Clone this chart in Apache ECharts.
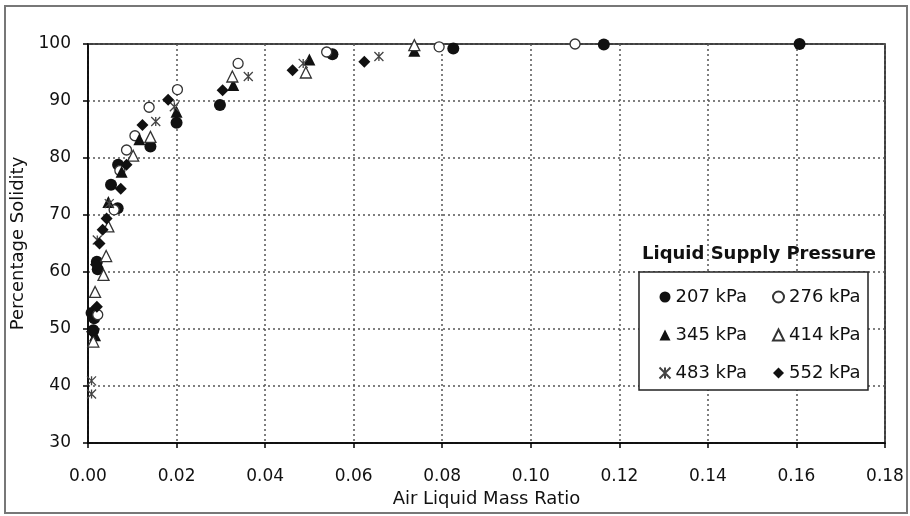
<!DOCTYPE html>
<html>
<head>
<meta charset="utf-8">
<script src="https://cdn.jsdelivr.net/npm/echarts@6/dist/echarts.min.js"></script>
<style>
  html, body { margin: 0; padding: 0; background: #fff; }
  #chart { width: 910px; height: 516px; }
</style>
</head>
<body>
<div id="chart"></div>
<script>
// data: [air liquid mass ratio, percentage solidity]
var p207 = [[0.0008,52.8],[0.0014,51.9],[0.0012,49.8],[0.0020,61.8],[0.0022,60.5],[0.0052,75.3],
	[0.0068,78.8],[0.0067,71.2],[0.0141,82.0],[0.0200,86.2],[0.0298,89.3],[0.0552,98.2],
	[0.0825,99.2],[0.1165,99.9],[0.1607,100]];
var p276 = [[0.0022,52.5],[0.0059,70.9],[0.0072,77.8],[0.0087,81.4],[0.0106,83.9],[0.0138,88.9],
	[0.0202,92.0],[0.0339,96.6],[0.0539,98.6],[0.0793,99.5],[0.110,100]];
var p345 = [[0.0016,48.9],[0.0027,60.7],[0.0046,72.3],[0.0076,77.6],[0.0116,83.3],[0.0200,88.1],
	[0.0328,92.8],[0.0500,97.3],[0.0737,98.8]];
var p414 = [[0.0012,47.8],[0.0016,56.5],[0.0035,59.5],[0.0041,62.8],[0.0046,68.0],[0.0102,80.4],
	[0.0141,83.7],[0.0326,94.3],[0.0492,95.0],[0.0737,99.8]];
var p483 = [[0.0008,40.9],[0.0008,38.6],[0.0021,65.6],[0.0048,72.0],[0.0153,86.4],[0.0195,89.0],
	[0.0362,94.3],[0.0486,96.6],[0.0657,97.8]];
var p552 = [[0.0009,49.5],[0.0020,53.9],[0.0018,61.3],[0.0026,65.0],[0.0033,67.4],[0.0042,69.4],
	[0.0074,74.6],[0.0087,78.8],[0.0123,85.8],[0.0181,90.2],[0.0304,91.9],[0.0462,95.4],[0.0624,96.9]];

var xMin = 0, xMax = 0.18, xStep = 0.02;
var yMin = 30, yMax = 100, yStep = 10;

var font = 'DejaVu Sans, Verdana, sans-serif';
var ink = '#111';
var starPath = 'path://M0,0L10,10M10,0L0,10M5,0L5,10';

var myChart = echarts.init(document.getElementById('chart'));

function pts(name, data, symbol, size, fill, stroke) {
	return {
		name: name,
		type: 'scatter',
		data: data,
		symbol: symbol,
		symbolSize: size,
		itemStyle: {
			color: fill,
			borderColor: stroke,
			borderWidth: fill === ink ? 0 : 1.3,
			opacity: 1
		}
	};
}

var legendText = { fontFamily: font, fontSize: 18, color: ink };

myChart.setOption({
	animation: false,
	backgroundColor: '#fff',
	title: {
		text: 'Liquid Supply Pressure',
		left: 637, top: 240,
		textStyle: { fontFamily: font, fontSize: 18, fontWeight: 'bold', color: ink }
	},
	graphic: [
		{ type: 'rect', z: -10, silent: true,
		  shape: { x: 5, y: 6, width: 902, height: 507 },
		  style: { fill: '#fff', stroke: '#777', lineWidth: 2 } },
		{ type: 'rect', z: 3, silent: true,
		  shape: { x: 639, y: 272, width: 229, height: 118 },
		  style: { fill: '#fff', stroke: '#222', lineWidth: 1.5 } }
	],
	legend: [
		{ orient: 'vertical', left: 652, top: 283, itemGap: 20, itemWidth: 11, itemHeight: 11,
		  textStyle: legendText, data: ['207 kPa', '345 kPa', '483 kPa'] },
		{ orient: 'vertical', left: 767, top: 283, itemGap: 20, itemWidth: 11, itemHeight: 11,
		  textStyle: legendText, data: ['276 kPa', '414 kPa', '552 kPa'] }
	],
	grid: {
		left: 88, right: 25, top: 44, bottom: 73,
		show: true, borderColor: '#000', borderWidth: 1.5
	},
	xAxis: {
		type: 'value',
		min: xMin, max: xMax, interval: xStep,
		name: 'Air Liquid Mass Ratio',
		nameLocation: 'middle', nameGap: 45,
		nameTextStyle: { fontFamily: font, fontSize: 18, color: ink },
		axisLine: { lineStyle: { color: '#000', width: 1.5 } },
		axisTick: { show: true, length: 5, lineStyle: { color: '#000', width: 1.5 } },
		axisLabel: { fontFamily: font, fontSize: 17, color: ink, margin: 25,
			formatter: function (v) { return v.toFixed(2); } },
		splitLine: { show: true, lineStyle: { color: '#555', width: 1.5, type: [2, 3] } }
	},
	yAxis: {
		type: 'value',
		min: yMin, max: yMax, interval: yStep,
		name: 'Percentage Solidity',
		nameLocation: 'middle', nameGap: 53,
		nameTextStyle: { fontFamily: font, fontSize: 18, color: ink },
		axisLine: { show: true, lineStyle: { color: '#000', width: 1.5 } },
		axisTick: { show: true, length: 5, lineStyle: { color: '#000', width: 1.5 } },
		axisLabel: { fontFamily: font, fontSize: 17, color: ink, margin: 17 },
		splitLine: { show: true, lineStyle: { color: '#555', width: 1.5, type: [2, 3] } }
	},
	series: [
		pts('207 kPa', p207, 'circle', 12, ink, ink),
		pts('276 kPa', p276, 'circle', 10, '#fff', '#333'),
		pts('345 kPa', p345, 'triangle', 12, ink, ink),
		pts('414 kPa', p414, 'triangle', 11, '#fff', '#333'),
		pts('483 kPa', p483, starPath, 9, 'none', '#444'),
		pts('552 kPa', p552, 'diamond', 12, ink, ink)
	]
});
</script>
</body>
</html>
